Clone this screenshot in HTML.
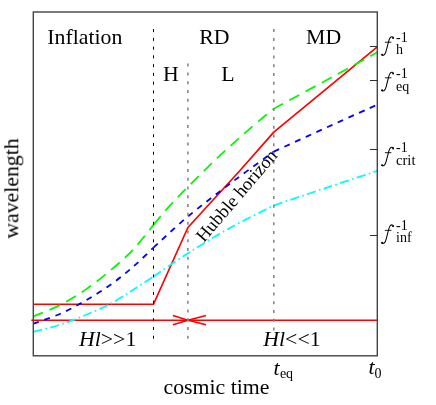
<!DOCTYPE html>
<html><head><meta charset="utf-8"><title>diagram</title>
<style>html,body{margin:0;padding:0;background:#fff;width:436px;height:405px;overflow:hidden}</style>
</head><body>
<svg width="436" height="405" viewBox="0 0 436 405" style="position:absolute;left:0;top:0" font-family="Liberation Serif, serif" fill="#000">
<rect width="436" height="405" fill="#fff"/>
<!-- red -->
<polyline points="33.3,304.25 153.5,304.25 187.9,227.5 240,170.5 273.8,132.1 377.3,46.8" fill="none" stroke="#ff0000" stroke-width="1.7" stroke-linejoin="round"/>
<line x1="31.3" y1="320.25" x2="377.3" y2="320.25" stroke="#ff0000" stroke-width="1.6"/>
<path d="M172.9 315.5 L188 320.2 L172.9 324.8 M206 315.5 L188 320.2 L206 324.8" fill="none" stroke="#ff0000" stroke-width="1.6"/>
<!-- curves -->
<path d="M33.30 331.80 C37.82 330.60 51.68 327.40 60.40 324.60 C69.12 321.80 77.18 318.52 85.60 315.00 C94.02 311.48 102.90 307.75 110.90 303.50 C118.90 299.25 126.50 294.00 133.60 289.50 C140.70 285.00 150.18 278.67 153.50 276.50" fill="none" stroke="#00ffff" stroke-width="1.8" stroke-dasharray="9.1 3.4 1.6 3.4" stroke-dashoffset="0"/>
<path d="M153.50 276.50 C159.23 272.63 175.37 261.28 187.90 253.30 C200.43 245.32 214.38 236.57 228.70 228.60 C243.02 220.62 266.28 209.31 273.80 205.45" fill="none" stroke="#00ffff" stroke-width="1.8" stroke-dasharray="9.1 3.4 1.6 3.4" stroke-dashoffset="0"/>
<path d="M273.80 205.45 C282.17 202.63 306.75 194.30 324.00 188.55 C341.25 182.80 368.42 173.88 377.30 170.95" fill="none" stroke="#00ffff" stroke-width="1.8" stroke-dasharray="9.1 3.4 1.6 3.4" stroke-dashoffset="0"/>
<path d="M33.30 323.70 C37.82 322.03 51.68 317.57 60.40 313.70 C69.12 309.83 77.18 305.37 85.60 300.50 C94.02 295.63 102.90 290.20 110.90 284.50 C118.90 278.80 126.50 272.45 133.60 266.30 C140.70 260.15 150.18 250.72 153.50 247.60" fill="none" stroke="#0000ff" stroke-width="1.8" stroke-dasharray="5.9 5.8" stroke-dashoffset="0"/>
<path d="M153.50 247.60 C159.23 242.42 174.55 227.60 187.90 216.50 C201.25 205.40 219.28 191.82 233.60 181.00 C247.92 170.18 267.10 156.50 273.80 151.60" fill="none" stroke="#0000ff" stroke-width="1.8" stroke-dasharray="5.9 5.8" stroke-dashoffset="0"/>
<path d="M273.80 151.60 C283.77 147.05 316.35 132.12 333.60 124.30 C350.85 116.48 370.02 107.97 377.30 104.70" fill="none" stroke="#0000ff" stroke-width="1.8" stroke-dasharray="5.9 5.8" stroke-dashoffset="0"/>
<path d="M33.30 316.50 C37.82 314.57 51.68 309.38 60.40 304.90 C69.12 300.42 77.18 295.40 85.60 289.60 C94.02 283.80 102.90 276.85 110.90 270.10 C118.90 263.35 126.50 256.63 133.60 249.10 C140.70 241.57 150.18 228.93 153.50 224.90" fill="none" stroke="#00fa00" stroke-width="1.75" stroke-dasharray="11.3 7.1" stroke-dashoffset="0.8"/>
<path d="M153.50 224.90 C155.48 222.53 161.37 215.30 165.40 210.70 C169.43 206.10 173.53 201.67 177.70 197.30 C181.87 192.93 186.08 188.83 190.40 184.50 C194.72 180.17 199.18 175.67 203.60 171.30 C208.02 166.93 212.43 162.52 216.90 158.30 C221.37 154.08 225.90 150.08 230.40 146.00 C234.90 141.92 239.32 137.83 243.90 133.80 C248.48 129.77 252.92 125.98 257.90 121.80 C262.88 117.62 271.15 110.88 273.80 108.70" fill="none" stroke="#00fa00" stroke-width="1.75" stroke-dasharray="11.3 7.1" stroke-dashoffset="0"/>
<path d="M273.80 108.70 C283.77 103.30 316.35 85.72 333.60 76.30 C350.85 66.88 370.02 56.22 377.30 52.20" fill="none" stroke="#00fa00" stroke-width="1.75" stroke-dasharray="11.3 7.1" stroke-dashoffset="0.7"/>
<!-- dotted verticals -->
<line x1="153.5" y1="29.1" x2="153.5" y2="340" stroke="#000" stroke-width="1" stroke-dasharray="3 5.76"/>
<line x1="187.9" y1="63.6" x2="187.9" y2="340" stroke="#808080" stroke-width="1.5" stroke-dasharray="3 5.78"/>
<line x1="273.8" y1="29.1" x2="273.8" y2="334" stroke="#808080" stroke-width="1.5" stroke-dasharray="3 5.78"/>
<!-- frame -->
<rect x="33.3" y="12.0" width="344.0" height="343.8" fill="none" stroke="#444" stroke-width="1.4"/>
<!-- ticks -->
<g stroke="#303030" stroke-width="1.05">
<line x1="369.9" y1="46.5" x2="377.3" y2="46.5"/>
<line x1="369.9" y1="80.5" x2="377.3" y2="80.5"/>
<line x1="369.9" y1="149.5" x2="377.3" y2="149.5"/>
<line x1="369.9" y1="235.5" x2="377.3" y2="235.5"/>
</g>
<!-- text -->
<g style="opacity:0.999">
<g font-size="21.8">
<text x="47.3" y="43.6">Inflation</text>
<text x="199.3" y="43.6">RD</text>
<text x="306" y="43.6">MD</text>
<text x="163" y="80.6">H</text>
<text x="221.3" y="80.6">L</text>
<text x="79" y="346"><tspan font-style="italic">Hl</tspan>&gt;&gt;1</text>
<text x="263.3" y="346"><tspan font-style="italic">Hl</tspan>&lt;&lt;1</text>
<text x="163.5" y="394">cosmic time</text>
<text transform="translate(18.3,238.7) rotate(-90)">wavelength</text>
<text transform="translate(204.0,243.0) rotate(-49.5)" font-size="18.3">Hubble horizon</text>
<text x="273.4" y="374.5" font-style="italic">t</text>
<text x="368.5" y="374.4" font-style="italic">t</text>
</g>
<text x="279.9" y="377.8" font-size="14">eq</text>
<text x="374.5" y="377.9" font-size="14">0</text>
<path d="M 393.50,38.00 C 393.30,36.60 391.40,36.20 390.20,37.60 C 389.10,39.00 388.70,41.00 388.10,43.40 L 386.10,51.20 C 385.40,53.70 384.30,55.40 382.90,55.40 C 382.10,55.40 381.60,55.00 381.80,54.50" fill="none" stroke="#000" stroke-width="1.05" stroke-linecap="round"/>
<path d="M 384.90,42.20 L 391.40,42.20" fill="none" stroke="#000" stroke-width="0.9"/>
<circle cx="393.10" cy="38.00" r="0.95"/><circle cx="382.20" cy="54.60" r="0.95"/>
<text x="396" y="41.5" font-size="14">-1</text>
<text x="396" y="54" font-size="14">h</text>
<path d="M 393.50,73.60 C 393.30,72.20 391.40,71.80 390.20,73.20 C 389.10,74.60 388.70,76.60 388.10,79.00 L 386.10,86.80 C 385.40,89.30 384.30,91.00 382.90,91.00 C 382.10,91.00 381.60,90.60 381.80,90.10" fill="none" stroke="#000" stroke-width="1.05" stroke-linecap="round"/>
<path d="M 384.90,77.80 L 391.40,77.80" fill="none" stroke="#000" stroke-width="0.9"/>
<circle cx="393.10" cy="73.60" r="0.95"/><circle cx="382.20" cy="90.20" r="0.95"/>
<text x="396" y="78.1" font-size="14">-1</text>
<text x="396" y="90.5" font-size="14">eq</text>
<path d="M 393.50,148.50 C 393.30,147.10 391.40,146.70 390.20,148.10 C 389.10,149.50 388.70,151.50 388.10,153.90 L 386.10,161.70 C 385.40,164.20 384.30,165.90 382.90,165.90 C 382.10,165.90 381.60,165.50 381.80,165.00" fill="none" stroke="#000" stroke-width="1.05" stroke-linecap="round"/>
<path d="M 384.90,152.70 L 391.40,152.70" fill="none" stroke="#000" stroke-width="0.9"/>
<circle cx="393.10" cy="148.50" r="0.95"/><circle cx="382.20" cy="165.10" r="0.95"/>
<text x="396" y="151.6" font-size="14">-1</text>
<text x="396" y="164.5" font-size="14.6">crit</text>
<path d="M 393.50,226.15 C 393.30,224.75 391.40,224.35 390.20,225.75 C 389.10,227.15 388.70,229.15 388.10,231.55 L 386.10,239.35 C 385.40,241.85 384.30,243.55 382.90,243.55 C 382.10,243.55 381.60,243.15 381.80,242.65" fill="none" stroke="#000" stroke-width="1.05" stroke-linecap="round"/>
<path d="M 384.90,230.35 L 391.40,230.35" fill="none" stroke="#000" stroke-width="0.9"/>
<circle cx="393.10" cy="226.15" r="0.95"/><circle cx="382.20" cy="242.75" r="0.95"/>
<text x="396" y="229.9" font-size="14">-1</text>
<text x="396" y="241.9" font-size="14">inf</text>
</g>
</svg>
</body></html>
